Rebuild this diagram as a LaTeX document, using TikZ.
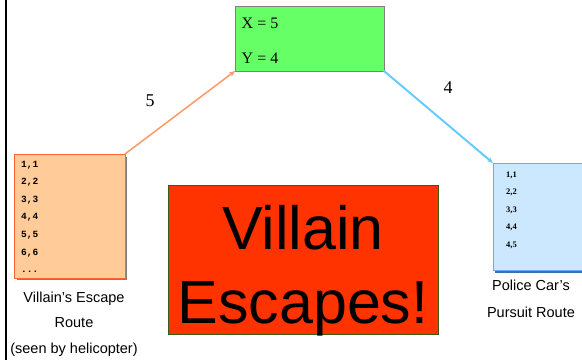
\documentclass[tikz,border=0pt]{standalone}
\usepackage{fontspec}
\setmainfont{Liberation Serif}
\setsansfont{Liberation Sans}
\setmonofont{Liberation Mono}
\usetikzlibrary{arrows.meta}

\definecolor{boxgreen}{HTML}{66FF66}
\definecolor{routeorange}{HTML}{FFCC99}
\definecolor{routeorangeedge}{HTML}{FF6633}
\definecolor{linkorange}{HTML}{FF9966}
\definecolor{routeblue}{HTML}{CCE8FF}
\definecolor{routeblueedge}{HTML}{66AAFF}
\definecolor{routeblueshadow}{HTML}{3D6FB0}
\definecolor{linkblue}{HTML}{66CCFF}
\definecolor{alarmred}{HTML}{FF3300}
\definecolor{alarmedge}{HTML}{3A5A1A}

\tikzset{
  monoentry/.style={anchor=base west, inner sep=0pt, font=\ttfamily\bfseries\fontsize{9.5}{10}\selectfont},
  serifentry/.style={anchor=base west, inner sep=0pt, font=\bfseries\fontsize{8.5}{9}\selectfont},
  caption/.style={anchor=base, inner sep=0pt, font=\sffamily\fontsize{14.5}{16}\selectfont},
  weight/.style={inner sep=0pt, font=\fontsize{18}{20}\selectfont},
  link/.style={-{Stealth[length=6pt,width=5pt]}},
}

\begin{document}
\begin{tikzpicture}[x=1pt,y=-1pt]
\useasboundingbox (0,0) rectangle (582,360);

% left rule
\draw[line width=2.5pt] (5.8,0) -- (5.8,360);

% result box
\draw[fill=boxgreen, draw=gray, line width=1pt] (235,6) rectangle (384,71);
\coordinate (resSW) at (235,71);
\coordinate (resSE) at (384,71);
\node[anchor=base west, inner sep=0pt, font=\fontsize{16}{18}\selectfont] (xval) at (241.5,28.5) {X = 5};
\node[anchor=base west, inner sep=0pt, font=\fontsize{16}{18}\selectfont] (yval) at (241.5,63.5) {Y = 4};

% villain route box
\fill[gray] (16.5,156.5) rectangle (127,280);
\draw[fill=routeorange, draw=routeorangeedge, line width=1pt] (14,154) rectangle (125,278);
\coordinate (villNE) at (125,154);
\node[monoentry] (v1) at (21,167) {1,1};
\node[monoentry] (v2) at (21,184.6) {2,2};
\node[monoentry] (v3) at (21,202.2) {3,3};
\node[monoentry] (v4) at (21,219.8) {4,4};
\node[monoentry] (v5) at (21,237.4) {5,5};
\node[monoentry] (v6) at (21,255) {6,6};
\node[monoentry] (v7) at (21,272.6) {...};

\node[caption] (vc1) at (74,302) {Villain's Escape};
\node[caption] (vc2) at (74,327) {Route};
\node[caption] (vc3) at (74,353) {(seen by helicopter)};

% police route box
\fill[routeblueshadow] (495,165) rectangle (585,272.5);
\draw[fill=routeblue, draw=routeblueedge, line width=1pt] (493,163) rectangle (586,270);
\coordinate (polNW) at (493,163);
\node[serifentry] (p1) at (506,177) {1,1};
\node[serifentry] (p2) at (506,194.6) {2,2};
\node[serifentry] (p3) at (506,212.2) {3,3};
\node[serifentry] (p4) at (506,229.8) {4,4};
\node[serifentry] (p5) at (506,247.4) {4,5};

\node[caption] (pc1) at (531,290) {Police Car's};
\node[caption] (pc2) at (531,317) {Pursuit Route};

% outcome box
\draw[fill=alarmred, draw=alarmedge, line width=0.8pt] (168,185.5) rectangle (438.5,334);
\node[anchor=base, inner sep=0pt, font=\sffamily\fontsize{61}{61}\selectfont] (out1) at (303,249) {Villain};
\node[anchor=base, inner sep=0pt, font=\sffamily\fontsize{61}{61}\selectfont] (out2) at (303,323) {Escapes!};

% links with weights
\draw[link, draw=linkorange, fill=linkorange, line width=1.5pt] (villNE) -- (resSW);
\draw[link, draw=linkblue, fill=linkblue, line width=2pt] (resSE) -- (polNW);
\node[weight] (w1) at (150,101) {5};
\node[weight] (w2) at (448,88) {4};

\end{tikzpicture}
\end{document}
